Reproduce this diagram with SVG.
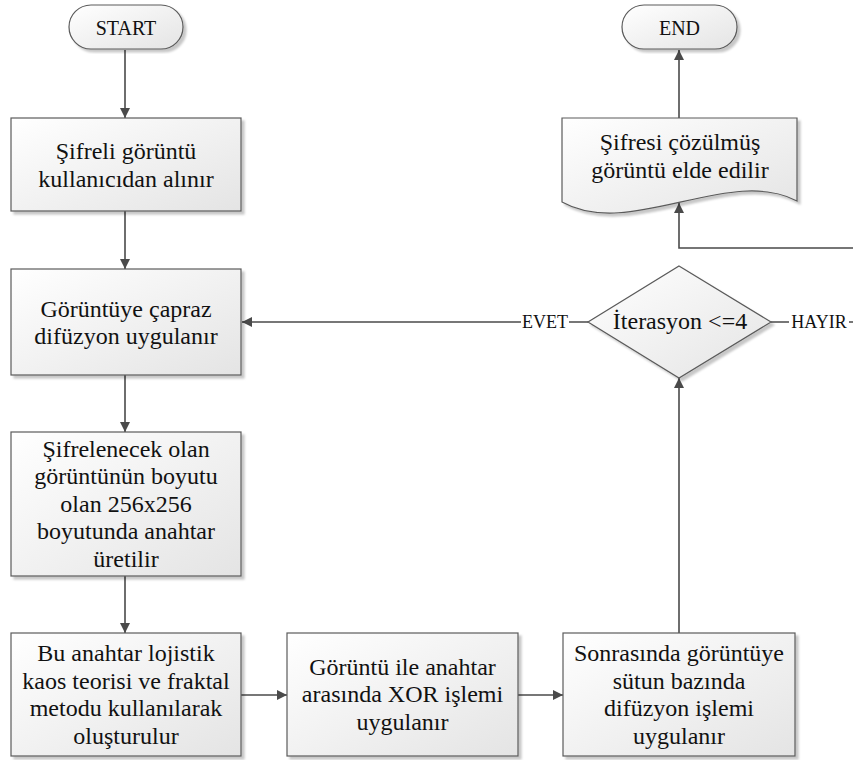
<svg xmlns="http://www.w3.org/2000/svg" width="853" height="760" viewBox="0 0 853 760">
<defs>
<linearGradient id="g" x1="0" y1="0" x2="1" y2="1">
<stop offset="0" stop-color="#ffffff"/>
<stop offset="1" stop-color="#e4e4e4"/>
</linearGradient>
<marker id="arr" viewBox="0 0 10 10" refX="10" refY="5" markerWidth="10" markerHeight="10" markerUnits="userSpaceOnUse" orient="auto">
<path d="M0,0 L10,5 L0,10 Z" fill="#4a4a4a"/>
</marker>
<filter id="sh" x="-5%" y="-5%" width="115%" height="115%">
<feOffset dx="3" dy="3" in="SourceAlpha" result="o"/>
<feColorMatrix in="o" type="matrix" values="0 0 0 0 0  0 0 0 0 0  0 0 0 0 0  0 0 0 0.22 0" result="c"/>
<feGaussianBlur in="c" stdDeviation="0.8" result="b"/>
<feMerge><feMergeNode in="b"/><feMergeNode in="SourceGraphic"/></feMerge>
</filter>
</defs>
<style>
.shape{fill:url(#g);stroke:#5a5a5a;stroke-width:1.2;filter:url(#sh)}
.t{font-family:"Liberation Serif","Times New Roman",serif;font-size:24px;fill:#111;text-anchor:middle}
.tc{font-family:"Liberation Serif","Times New Roman",serif;font-size:20px;fill:#111;text-anchor:middle}
.lb{font-family:"Liberation Serif","Times New Roman",serif;font-size:18px;fill:#111;text-anchor:middle}
.c{fill:none;stroke:#4a4a4a;stroke-width:1.6}
</style>
<rect width="853" height="760" fill="#ffffff"/>
<g id="connectors">
<line class="c" x1="125" y1="50" x2="125" y2="118" marker-end="url(#arr)"/>
<line class="c" x1="125" y1="211" x2="125" y2="269" marker-end="url(#arr)"/>
<line class="c" x1="125" y1="375" x2="125" y2="432" marker-end="url(#arr)"/>
<line class="c" x1="125" y1="576" x2="125" y2="633" marker-end="url(#arr)"/>
<line class="c" x1="241" y1="695" x2="287" y2="695" marker-end="url(#arr)"/>
<line class="c" x1="518" y1="695" x2="563" y2="695" marker-end="url(#arr)"/>
<line class="c" x1="679" y1="633" x2="679" y2="378" marker-end="url(#arr)"/>
<line class="c" x1="588" y1="322" x2="242" y2="322" marker-end="url(#arr)"/>
<line class="c" x1="771" y1="322" x2="853" y2="322"/>
<polyline class="c" points="853,248 679,248 679,203" marker-end="url(#arr)"/>
<line class="c" x1="679" y1="118" x2="679" y2="50" marker-end="url(#arr)"/>
<rect x="521" y="311" width="48" height="22" fill="#ffffff"/>
<text class="lb" x="545" y="328">EVET</text>
<rect x="789" y="311" width="60" height="22" fill="#ffffff"/>
<text class="lb" x="819" y="328">HAYIR</text>
</g>
<g id="start">
<rect class="shape" x="69" y="5" width="114" height="44" rx="22"/>
<text class="tc" x="126" y="35">START</text>
</g>
<g id="box1">
<rect class="shape" x="11" y="118" width="230" height="93"/>
<text class="t" x="126" y="159">Şifreli görüntü</text>
<text class="t" x="126" y="187">kullanıcıdan alınır</text>
</g>
<g id="box2">
<rect class="shape" x="11" y="269" width="230" height="106"/>
<text class="t" x="126" y="317">Görüntüye çapraz</text>
<text class="t" x="126" y="344">difüzyon uygulanır</text>
</g>
<g id="box3">
<rect class="shape" x="11" y="432" width="230" height="144"/>
<text class="t" x="126" y="457">Şifrelenecek olan</text>
<text class="t" x="126" y="484">görüntünün boyutu</text>
<text class="t" x="126" y="512">olan 256x256</text>
<text class="t" x="126" y="539">boyutunda anahtar</text>
<text class="t" x="126" y="567">üretilir</text>
</g>
<g id="box4">
<rect class="shape" x="11" y="633" width="230" height="123"/>
<text class="t" x="126" y="661">Bu anahtar lojistik</text>
<text class="t" x="126" y="689">kaos teorisi ve fraktal</text>
<text class="t" x="126" y="716">metodu kullanılarak</text>
<text class="t" x="126" y="744">oluşturulur</text>
</g>
<g id="box5">
<rect class="shape" x="287" y="633" width="231" height="123"/>
<text class="t" x="402.5" y="675">Görüntü ile anahtar</text>
<text class="t" x="402.5" y="702">arasında XOR işlemi</text>
<text class="t" x="402.5" y="730">uygulanır</text>
</g>
<g id="box6">
<rect class="shape" x="563" y="633" width="232" height="123"/>
<text class="t" x="679" y="661">Sonrasında görüntüye</text>
<text class="t" x="679" y="689">sütun bazında</text>
<text class="t" x="679" y="716">difüzyon işlemi</text>
<text class="t" x="679" y="744">uygulanır</text>
</g>
<g id="decision">
<polygon class="shape" points="679,266 771,322 679,378 588,322"/>
<text class="t" x="680" y="329">İterasyon &lt;=4</text>
</g>
<g id="document">
<path class="shape" d="M562,118 H797 V201 C730,165 630,240 562,202 Z"/>
<text class="t" x="680" y="150">Şifresi çözülmüş</text>
<text class="t" x="680" y="178">görüntü elde edilir</text>
</g>
<g id="end">
<rect class="shape" x="622" y="5" width="115" height="44" rx="22"/>
<text class="tc" x="679.5" y="35">END</text>
</g>
</svg>
